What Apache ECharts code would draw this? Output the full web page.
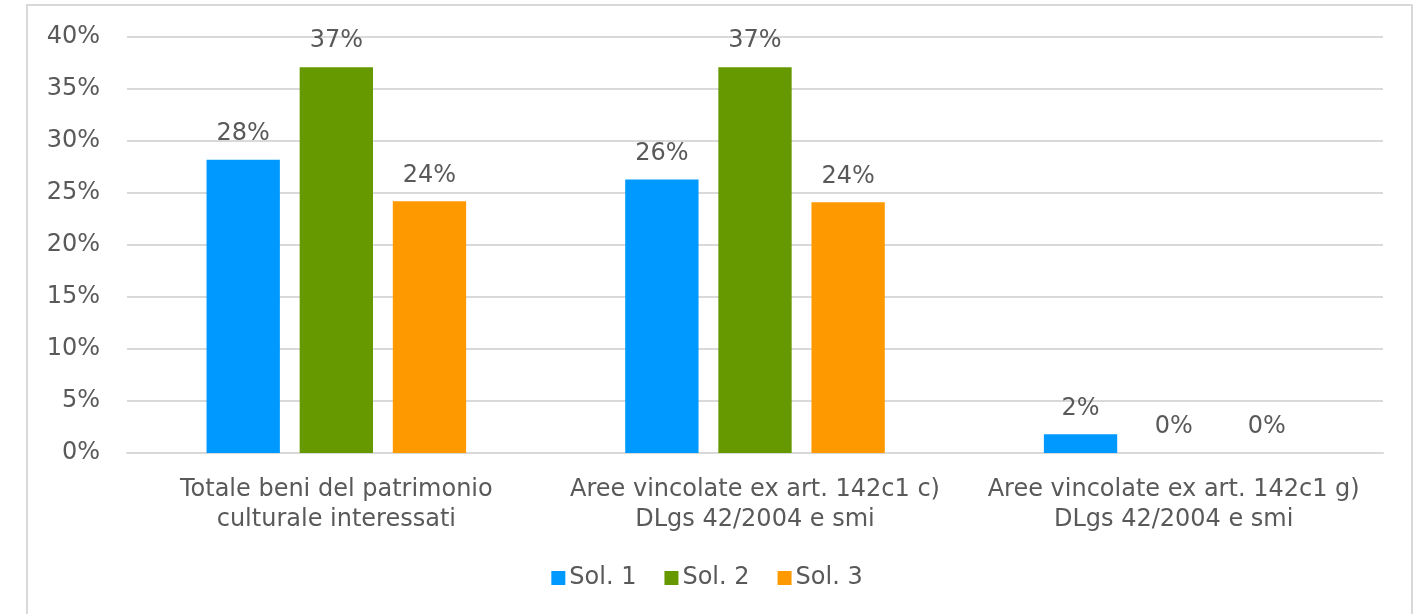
<!DOCTYPE html>
<html><head><meta charset="utf-8">
<script src="https://cdn.jsdelivr.net/npm/echarts@6/dist/echarts.min.js"></script>
<style>html,body{margin:0;padding:0;background:#fff}#c{width:1414px;height:614px}</style>
</head><body><div id="c"></div>
<script>
const categories = ['Totale beni del patrimonio\nculturale interessati', 'Aree vincolate ex art. 142c1 c)\nDLgs 42/2004 e smi', 'Aree vincolate ex art. 142c1 g)\nDLgs 42/2004 e smi'];
const sol1 = [28.2, 26.3, 1.8];
const sol2 = [37.1, 37.1, 0];
const sol3 = [24.2, 24.1, 0];
const seriesNames = ['Sol. 1', 'Sol. 2', 'Sol. 3'];
const colors = ['#0099FF', '#669900', '#FF9900'];
const yTicks = {min: 0, max: 40, interval: 5};

const chart = echarts.init(document.getElementById('c'));
const font = 'DejaVu Sans, sans-serif';
const txt = '#595959';
const label = {show: true, position: 'top', distance: 14, formatter: p => Math.round(p.value) + '%', color: txt, fontSize: 24, fontFamily: font};
chart.setOption({
  animation: false,
  graphic: [{type: 'rect', shape: {x: 27, y: 5, width: 1385, height: 640}, style: {fill: 'none', stroke: '#d9d9d9', lineWidth: 2}, silent: true}],
  grid: {left: 127, right: 31, top: 37, bottom: 161},
  legend: {bottom: 19, left: 'center', itemWidth: 14, itemHeight: 14, itemGap: 28, icon: 'rect',
    textStyle: {color: txt, fontSize: 24, fontFamily: font, padding: [0, 0, 0, -1]}, data: seriesNames},
  xAxis: {type: 'category', data: categories,
    axisLine: {show: true, lineStyle: {color: '#d9d9d9', width: 2}}, axisTick: {show: false},
    axisLabel: {color: txt, fontSize: 24, fontFamily: font, margin: 22, lineHeight: 30, interval: 0}},
  yAxis: {type: 'value', min: yTicks.min, max: yTicks.max, interval: yTicks.interval,
    axisLabel: {formatter: '{value}%', color: txt, fontSize: 24, fontFamily: font, margin: 27},
    splitLine: {lineStyle: {color: '#d9d9d9', width: 2}}, axisLine: {show: false}, axisTick: {show: false}},
  series: [
    {name: seriesNames[0], type: 'bar', data: sol1, itemStyle: {color: colors[0]}, label, barGap: '27%', barCategoryGap: '38%'},
    {name: seriesNames[1], type: 'bar', data: sol2, itemStyle: {color: colors[1]}, label},
    {name: seriesNames[2], type: 'bar', data: sol3, itemStyle: {color: colors[2]}, label}
  ]
});
</script></body></html>
